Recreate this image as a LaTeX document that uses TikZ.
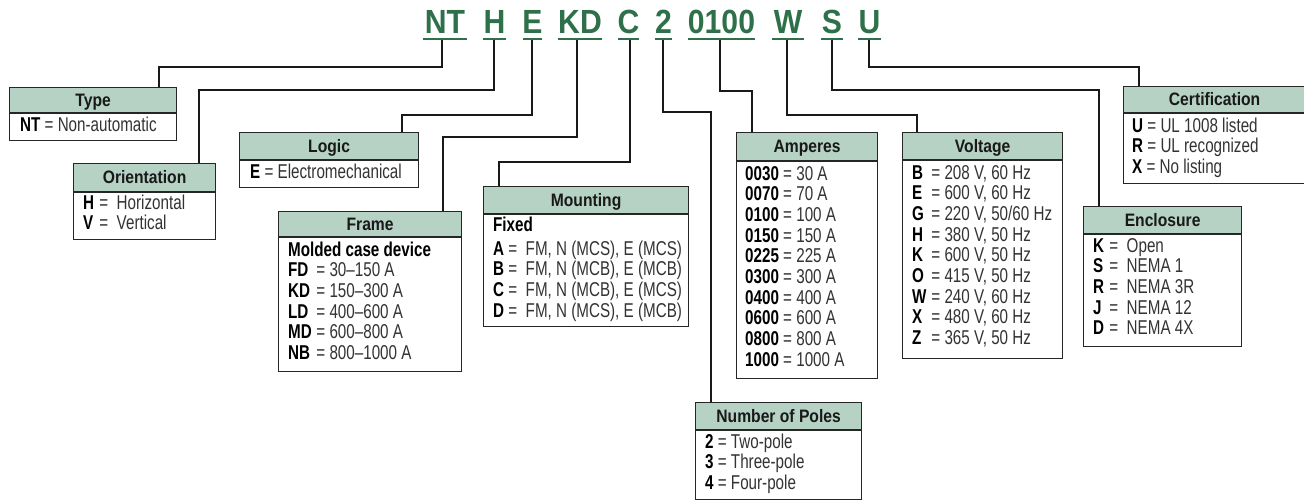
\documentclass[tikz,border=0pt]{standalone}
\usepackage{fontspec}
\setmainfont[FakeStretch=0.76]{Liberation Sans}
\newfontfamily\codefont[FakeStretch=0.9]{Liberation Sans}
\newfontfamily\hdrfont[FakeStretch=0.87]{Liberation Sans}
\usetikzlibrary{calc}
\definecolor{hdrfill}{HTML}{B5D2C4}
\definecolor{codegreen}{HTML}{2E7049}
\definecolor{boxline}{HTML}{262626}
\definecolor{valtext}{HTML}{333333}
\newcommand\kk[2]{\makebox[#1pt][l]{\textcolor{black}{\bfseries #2}}}
\newcommand\kb[1]{\textcolor{black}{\bfseries #1}}
\newcommand\boxlines[4]{\foreach \ln [count=\i] in {#4}{\node[txt] (#1\i) at (#2,{#3+(\i-1)*20.7}) {\ln};}}
\tikzset{
  hdr/.style={draw=boxline, fill=hdrfill, line width=1.2pt, inner sep=0pt,
    text height=12.6pt, text depth=0pt, font=\hdrfont\fontsize{18}{20}\selectfont\bfseries,
    anchor=north west, text=black!90},
  bodyfr/.style={draw=boxline, line width=1.2pt, inner sep=0pt, anchor=north west},
  txt/.style={anchor=base west, inner sep=0pt, font=\fontsize{20}{20.7}\selectfont, text=valtext},
  conn/.style={draw=black!90, line width=2.2pt},
  uline/.style={draw=codegreen, line width=2pt},
  codetxt/.style={anchor=base, inner sep=0pt, font=\codefont\fontsize{33.5}{36}\selectfont\bfseries, text=codegreen}
}
\begin{document}
\begin{tikzpicture}[x=1pt,y=-1pt]
\useasboundingbox (0,0) rectangle (1304,499);
\fill[white] (0,0) rectangle (1304,499);

% ---- code letters
\node[codetxt] (c1) at (445,33.5) {NT};
\node[codetxt] (c2) at (494.5,33.5) {H};
\node[codetxt] (c3) at (532.5,33.5) {E};
\node[codetxt] (c4) at (580,33.5) {KD};
\node[codetxt] (c5) at (628.5,33.5) {C};
\node[codetxt] (c6) at (663.5,33.5) {2};
\node[codetxt] (c7) at (721.5,33.5) {0100};
\node[codetxt] (c8) at (788,33.5) {W};
\node[codetxt] (c9) at (832,33.5) {S};
\node[codetxt] (c10) at (869.5,33.5) {U};
\draw[uline] ($(c1.base)+(-22,5)$) -- ($(c1.base)+(22,5)$);
\draw[uline] ($(c2.base)+(-11.5,5)$) -- ($(c2.base)+(11.5,5)$);
\draw[uline] ($(c3.base)+(-9.5,5)$) -- ($(c3.base)+(9.5,5)$);
\draw[uline] ($(c4.base)+(-22,5)$) -- ($(c4.base)+(22,5)$);
\draw[uline] ($(c5.base)+(-10.5,5)$) -- ($(c5.base)+(10.5,5)$);
\draw[uline] ($(c6.base)+(-8.5,5)$) -- ($(c6.base)+(8.5,5)$);
\draw[uline] ($(c7.base)+(-33.5,5)$) -- ($(c7.base)+(33.5,5)$);
\draw[uline] ($(c8.base)+(-16,5)$) -- ($(c8.base)+(16,5)$);
\draw[uline] ($(c9.base)+(-11,5)$) -- ($(c9.base)+(11,5)$);
\draw[uline] ($(c10.base)+(-11.5,5)$) -- ($(c10.base)+(11.5,5)$);

\coordinate (t1) at (442,39.5);
\coordinate (t2) at (494,39.5);
\coordinate (t3) at (532,39.5);
\coordinate (t4) at (577,39.5);
\coordinate (t5) at (630,39.5);
\coordinate (t6) at (663,39.5);
\coordinate (t7) at (720,39.5);
\coordinate (t8) at (787,39.5);
\coordinate (t9) at (832,39.5);
\coordinate (t10) at (869,39.5);

% ---- Type
\node[hdr, minimum width=167pt, minimum height=25pt] (typeH) at (9,87) {Type};
\node[bodyfr, minimum width=167pt, minimum height=27pt] (typeB) at (typeH.south west) {};
\boxlines{typeL}{20}{131}{{\kb{NT} = Non-automatic}}

% ---- Orientation
\node[hdr, minimum width=142pt, minimum height=28pt] (orientH) at (73,163) {Orientation};
\node[bodyfr, minimum width=142pt, minimum height=47pt] (orientB) at (orientH.south west) {};
\boxlines{orientL}{83}{209}{{\kk{12}{H} =\ \ Horizontal},{\kk{12}{V} =\ \ Vertical}}

% ---- Logic
\node[hdr, minimum width=179pt, minimum height=27pt] (logicH) at (239,132) {Logic};
\node[bodyfr, minimum width=179pt, minimum height=27pt] (logicB) at (logicH.south west) {};
\boxlines{logicL}{250}{178}{{\kb{E} = Electromechanical}}

% ---- Frame
\node[hdr, minimum width=183pt, minimum height=25pt] (frameH) at (278,211) {Frame};
\node[bodyfr, minimum width=183pt, minimum height=134pt] (frameB) at (frameH.south west) {};
\boxlines{frameL}{288}{256}{{\kb{Molded case device}},{\kk{24}{FD} = 30--150 A},{\kk{24}{KD} = 150--300 A},{\kk{24}{LD} = 400--600 A},{\kk{24}{MD} = 600--800 A},{\kk{24}{NB} = 800--1000 A}}

% ---- Mounting
\node[hdr, minimum width=205pt, minimum height=27pt] (mountH) at (483,186) {Mounting};
\node[bodyfr, minimum width=205pt, minimum height=112pt] (mountB) at (mountH.south west) {};
\node[txt] (mountF) at (493,231) {\kb{Fixed}};
\boxlines{mountL}{493}{255}{{\kk{11}{A} =\ \ FM, N (MCS), E (MCS)},{\kk{11}{B} =\ \ FM, N (MCB), E (MCB)},{\kk{11}{C} =\ \ FM, N (MCB), E (MCS)},{\kk{11}{D} =\ \ FM, N (MCS), E (MCB)}}

% ---- Amperes
\node[hdr, minimum width=141pt, minimum height=28pt] (ampH) at (736,132) {Amperes};
\node[bodyfr, minimum width=141pt, minimum height=217pt] (ampB) at (ampH.south west) {};
\boxlines{ampL}{745}{180}{{\kb{0030} = 30 A},{\kb{0070} = 70 A},{\kb{0100} = 100 A},{\kb{0150} = 150 A},{\kb{0225} = 225 A},{\kb{0300} = 300 A},{\kb{0400} = 400 A},{\kb{0600} = 600 A},{\kb{0800} = 800 A},{\kb{1000} = 1000 A}}

% ---- Voltage
\node[hdr, minimum width=160pt, minimum height=27pt] (voltH) at (902,132) {Voltage};
\node[bodyfr, minimum width=160pt, minimum height=198pt] (voltB) at (voltH.south west) {};
\boxlines{voltL}{912}{179}{{\kk{15}{B} = 208 V, 60 Hz},{\kk{15}{E} = 600 V, 60 Hz},{\kk{15}{G} = 220 V, 50/60 Hz},{\kk{15}{H} = 380 V, 50 Hz},{\kk{15}{K} = 600 V, 50 Hz},{\kk{15}{O} = 415 V, 50 Hz},{\kk{15}{W} = 240 V, 60 Hz},{\kk{15}{X} = 480 V, 60 Hz},{\kk{15}{Z} = 365 V, 50 Hz}}

% ---- Number of Poles
\node[hdr, minimum width=166pt, minimum height=27pt] (polesH) at (695,402) {Number of Poles};
\node[bodyfr, minimum width=166pt, minimum height=69pt] (polesB) at (polesH.south west) {};
\boxlines{polesL}{705}{448}{{\kb{2} = Two-pole},{\kb{3} = Three-pole},{\kb{4} = Four-pole}}

% ---- Certification
\node[hdr, minimum width=182pt, minimum height=26pt] (certH) at (1123,86) {Certification};
\node[bodyfr, minimum width=182pt, minimum height=70pt] (certB) at (certH.south west) {};
\boxlines{certL}{1132}{132}{{\kb{U} = UL 1008 listed},{\kb{R} = UL recognized},{\kb{X} = No listing}}

% ---- Enclosure
\node[hdr, minimum width=158pt, minimum height=27pt] (enclH) at (1083,206) {Enclosure};
\node[bodyfr, minimum width=158pt, minimum height=112pt] (enclB) at (enclH.south west) {};
\boxlines{enclL}{1093}{252}{{\kk{12}{K} =\ \ Open},{\kk{12}{S} =\ \ NEMA 1},{\kk{12}{R} =\ \ NEMA 3R},{\kk{12}{J} =\ \ NEMA 12},{\kk{12}{D} =\ \ NEMA 4X}}

% ---- connectors
\draw[conn] (t1) -- ++(0,27.5) -| ($(typeH.north west)+(150,0)$);
\draw[conn] (t2) -- ++(0,50.5) -| ($(orientH.north west)+(126,0)$);
\draw[conn] (t3) -- ++(0,75.5) -| ($(logicH.north west)+(163,0)$);
\draw[conn] (t4) -- ++(0,97.5) -| ($(frameH.north west)+(165,0)$);
\draw[conn] (t5) -- ++(0,122.5) -| ($(mountH.north west)+(16,0)$);
\draw[conn] (t6) -- ++(0,72.5) -| ($(polesH.north west)+(16,0)$);
\draw[conn] (t7) -- ++(0,51.5) -| ($(ampH.north west)+(16,0)$);
\draw[conn] (t8) -- ++(0,75.5) -| ($(voltH.north west)+(15,0)$);
\draw[conn] (t9) -- ++(0,50.5) -| ($(enclH.north west)+(16,0)$);
\draw[conn] (t10) -- ++(0,27.5) -| ($(certH.north west)+(16,0)$);
\end{tikzpicture}
\end{document}
